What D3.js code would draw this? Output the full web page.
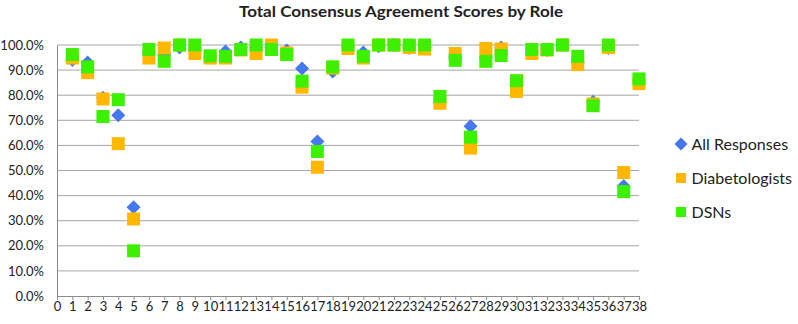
<!DOCTYPE html>
<html>
<head>
<meta charset="utf-8">
<script src="https://cdn.jsdelivr.net/npm/d3@7"></script>
<style>
  body { margin: 0; background: #fff; }
  text { font-family: Lato, "Open Sans", sans-serif; fill: #222; }
</style>
</head>
<body>
<div class="canvas"></div>
<script>
// data
const items = d3.range(1, 39);
const allResponses = [94, 93, 79, 72, 35.4, 97, 96, 99, 98, 95, 97.4, 99, 99, 99, 97.8, 90.6, 61.6, 89.4, 99.5, 97,
  99.5, 100, 98.8, 99, 78, 95, 67.6, 95, 99, 84, 97, 98, 100, 93, 77.4, 98.8, 43.8, 86];
const diabetologists = [94.8, 89, 78.5, 60.7, 30.7, 94.8, 98.8, 100, 96.6, 94.8, 94.8, 98, 96.6, 100, 96.8, 83.2, 51.3, 90.8, 98.6, 94.8,
  100, 100, 99, 98.4, 76.8, 96.6, 58.9, 98.6, 98.4, 81.5, 96.6, 98, 100, 92.2, 76.5, 99, 49.2, 84.6];
const dsns = [96.2, 91.3, 71.5, 78.2, 18.0, 98.2, 93.5, 100, 100, 95.7, 95.5, 98.2, 100, 98.2, 96.2, 85.6, 57.6, 91.3, 100, 95.5,
  100, 100, 100, 100, 79.5, 93.9, 63.3, 93.5, 95.8, 85.8, 98.2, 98.2, 100, 95.5, 75.8, 100, 41.6, 86.5];
const yTicks = d3.range(0, 101, 10);
const xTicks = d3.range(0, 39);

const series = [
  {name: 'All Responses', values: allResponses, color: '#4677ee', shape: 'diamond'},
  {name: 'Diabetologists', values: diabetologists, color: '#ffb700', shape: 'square'},
  {name: 'DSNs', values: dsns, color: '#3cf000', shape: 'square'}
];

var margin = {top: 45, right: 159, bottom: 28, left: 57},
  width = 798 - margin.left - margin.right,
  height = 324 - margin.top - margin.bottom;

var svg = d3.select('.canvas')
  .append('svg')
  .attr('width', 798)
  .attr('height', 324);

const graph = svg.append('g')
  .attr('transform', `translate(${margin.left},${margin.top})`);

// scales
const x = d3.scaleLinear().domain([0, 38]).range([0, width]);
const y = d3.scaleLinear().domain([0, 100]).range([height, 0]);

// gridlines
graph.append('g')
  .selectAll('line')
  .data(yTicks.filter(d => d > 0))
  .enter().append('line')
    .attr('x1', 0)
    .attr('x2', width)
    .attr('y1', d => y(d))
    .attr('y2', d => y(d))
    .attr('stroke', '#a6a6a6')
    .attr('stroke-width', 1);

// axes
const yAxis = d3.axisLeft(y)
  .tickValues(yTicks)
  .tickSize(0)
  .tickPadding(13)
  .tickFormat(d => d.toFixed(1) + '%');

const xAxis = d3.axisBottom(x)
  .tickValues(xTicks)
  .tickSize(4)
  .tickPadding(1.5)
  .tickFormat(d => d);

const yAxisGroup = graph.append('g').call(yAxis);
const xAxisGroup = graph.append('g')
  .attr('transform', `translate(0, ${height})`)
  .call(xAxis);

yAxisGroup.select('.domain').attr('stroke', '#8c8c8c');
xAxisGroup.select('.domain').attr('stroke', '#8c8c8c');
xAxisGroup.selectAll('.tick line').attr('stroke', '#8c8c8c');
yAxisGroup.selectAll('text')
  .style('font-size', '13px')
  .attr('fill', '#222');
xAxisGroup.selectAll('text')
  .style('font-size', '13px')
  .attr('fill', '#222');

// markers: square, and a square turned 45 degrees for the diamond
const diamond = r => `M0,${-r}L${r},0L0,${r}L${-r},0Z`;
const square = h => `M${-h},${-h}H${h}V${h}H${-h}Z`;
const markerPath = s => s.shape === 'diamond' ? diamond(7) : square(6.5);

series.forEach(s => {
  graph.append('g')
    .selectAll('path')
    .data(s.values)
    .enter().append('path')
      .attr('d', markerPath(s))
      .attr('transform', (d, i) => `translate(${x(items[i])},${y(d)})`)
      .attr('fill', s.color);
});

// title
svg.append('text')
  .attr('x', 401)
  .attr('y', 17)
  .attr('text-anchor', 'middle')
  .attr('textLength', 324)
  .attr('lengthAdjust', 'spacingAndGlyphs')
  .style('font-size', '15.5px')
  .style('font-weight', 'bold')
  .text('Total Consensus Agreement Scores by Role');

// legend
const legend = svg.append('g')
  .attr('transform', 'translate(681, 144)');

const legendItems = legend.selectAll('g')
  .data(series)
  .enter().append('g')
    .attr('transform', (d, i) => `translate(0, ${i * 34})`);

legendItems.append('path')
  .attr('d', d => d.shape === 'diamond' ? diamond(6.5) : square(5))
  .attr('fill', d => d.color);

legendItems.append('text')
  .attr('x', 10.5)
  .attr('y', 6)
  .style('font-size', '16px')
  .text(d => d.name);
</script>
</body>
</html>
